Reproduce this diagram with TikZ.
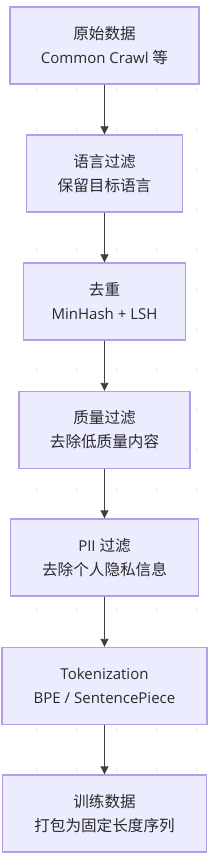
\documentclass[tikz,border=0pt]{standalone}
\usepackage{fontspec}
\setmainfont{Open Sans}
\newfontfamily\cjk[Scale=1.04]{Noto Sans CJK SC}
\usetikzlibrary{arrows.meta}
\definecolor{boxfill}{HTML}{ECECFF}
\definecolor{boxdraw}{HTML}{B49EEA}
\definecolor{txt}{HTML}{2A2A2A}
\definecolor{griddot}{HTML}{DADADA}
\begin{document}
\begin{tikzpicture}[x=1pt,y=-1pt,
  stepbox/.style={draw=boxdraw, fill=boxfill, line width=1.4pt, minimum height=77pt,
    inner sep=0pt, text=txt, align=center, font=\fontsize{15}{24}\selectfont},
  conn/.style={draw=txt!90, line width=0.9pt, -{Triangle[length=8pt,width=8pt]}}]
\useasboundingbox (0,0) rectangle (211,858);
\fill[white] (0,0) rectangle (211,858);
\foreach \x in {37,77,...,197} \foreach \y in {10,50,...,850} \fill[griddot] (\x,\y) circle (0.8pt);
\node[stepbox, minimum width=189pt] (n1) at (104.5,45.5) {{\cjk 原始数据}\\Common Crawl {\cjk 等}};
\node[stepbox, minimum width=156pt] (n2) at (104.5,173.5) {{\cjk 语言过滤}\\{\cjk 保留目标语言}};
\node[stepbox, minimum width=162pt] (n3) at (104.5,301.5) {{\cjk 去重}\\MinHash + LSH};
\node[stepbox, minimum width=171pt] (n4) at (104.5,430) {{\cjk 质量过滤}\\{\cjk 去除低质量内容}};
\node[stepbox, minimum width=188pt] (n5) at (104.5,557.5) {PII {\cjk 过滤}\\{\cjk 去除个人隐私信息}};
\node[stepbox, minimum width=205pt] (n6) at (104.5,686) {Tokenization\\BPE / SentencePiece};
\node[stepbox, minimum width=204pt] (n7) at (104.5,813.5) {{\cjk 训练数据}\\{\cjk 打包为固定长度序列}};
\draw[conn] (n1) -- (n2);
\draw[conn] (n2) -- (n3);
\draw[conn] (n3) -- (n4);
\draw[conn] (n4) -- (n5);
\draw[conn] (n5) -- (n6);
\draw[conn] (n6) -- (n7);
\end{tikzpicture}
\end{document}
